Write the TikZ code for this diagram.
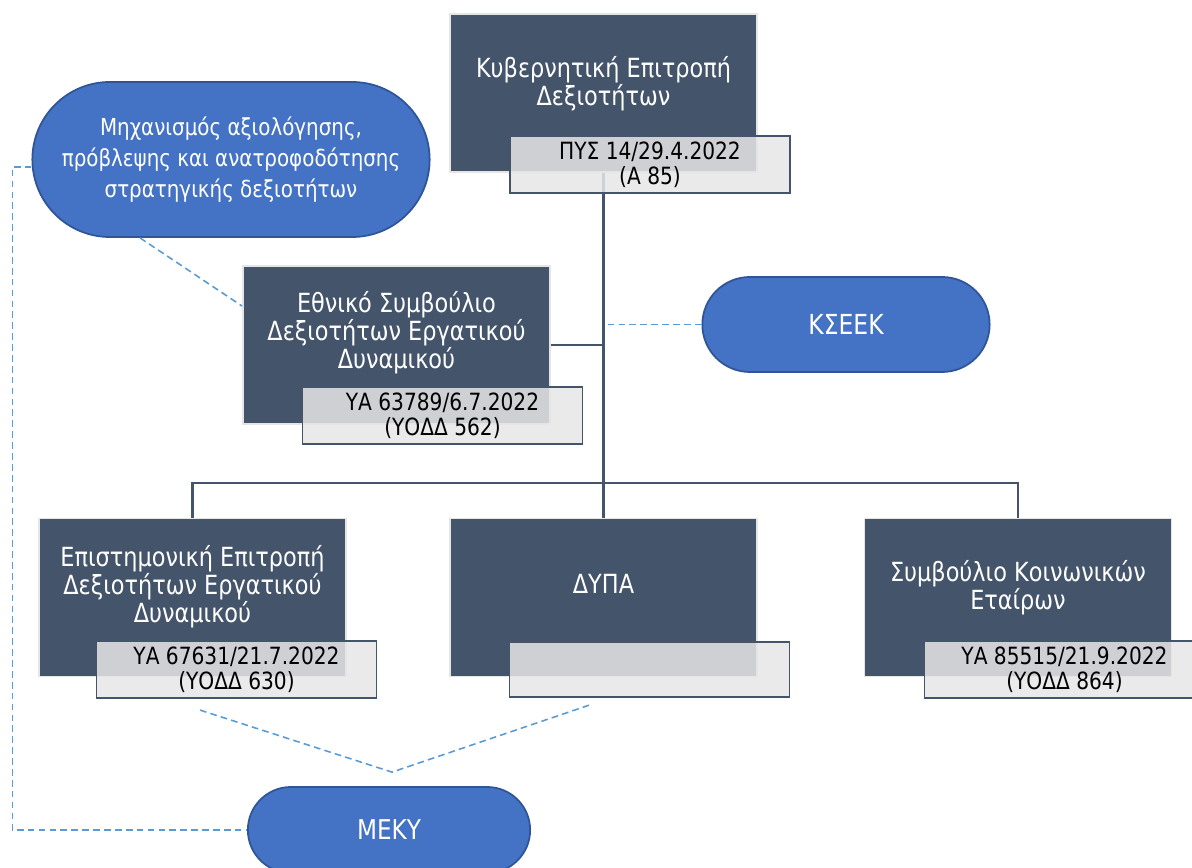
\documentclass[tikz,border=0pt]{standalone}
\usepackage{fontspec}
\setmainfont{DejaVu Sans}[FakeStretch=0.85]
\usetikzlibrary{shapes.misc}
\definecolor{unitdark}{HTML}{44546A}
\definecolor{taggray}{HTML}{E7E6E6}
\definecolor{pillblue}{HTML}{4472C4}
\definecolor{pillline}{HTML}{2F5597}
\definecolor{linkblue}{HTML}{5B9BD5}

\begin{document}
\begin{tikzpicture}[
  font=\fontsize{15}{16}\selectfont,
  unit/.style={draw=gray!20, line width=1pt, fill=unitdark, minimum width=6.14cm, minimum height=3.16cm},
  unittxt/.style={text=white, align=center},
  tag/.style={draw=unitdark, line width=1pt, fill=taggray, fill opacity=0.85, text opacity=1, minimum width=5.6cm, minimum height=1.1cm, align=center, font=\fontsize{13.5}{14.2}\selectfont},
  pill/.style={rounded rectangle, draw=pillline, line width=1pt, fill=pillblue, text=white, align=center},
  conn/.style={draw=unitdark, line width=1.4pt},
  linkdash/.style={draw=linkblue, line width=0.9pt, dash pattern=on 3.8pt off 2.4pt}
]
\useasboundingbox (0,0) rectangle (23.84,-17.36);

% Units
\node[unit] (kyv) at (12.07, -1.86) {};
\node[unit] (esded) at (7.93, -6.90) {};
\node[unit] (epit) at (3.85, -11.95) {};
\node[unit] (dypa) at (12.07, -11.95) {};
\node[unit] (symv) at (20.36, -11.95) {};

\node[unittxt] (kyvtxt) at ([yshift=0.19cm]kyv.center) {Κυβερνητική Επιτροπή\\Δεξιοτήτων};
\node[unittxt] (esdedtxt) at ([yshift=0.24cm]esded.center) {Εθνικό Συμβούλιο\\Δεξιοτήτων Εργατικού\\Δυναμικού};
\node[unittxt] (epittxt) at ([yshift=0.21cm]epit.center) {Επιστημονική Επιτροπή\\Δεξιοτήτων Εργατικού\\Δυναμικού};
\node[unittxt] (dypatxt) at ([yshift=0.28cm]dypa.center) {ΔΥΠΑ};
\node[unittxt] (symvtxt) at ([yshift=0.2cm]symv.center) {Συμβούλιο Κοινωνικών\\Εταίρων};

% Pills
\node[pill, minimum width=8.18cm, minimum height=3.1cm, font=\fontsize{13.3}{17.5}\selectfont] (mech) at (4.62, -3.19) {Μηχανισμός αξιολόγησης,\\πρόβλεψης και ανατροφοδότησης\\στρατηγικής δεξιοτήτων};
\node[pill, minimum width=5.98cm, minimum height=1.9cm, font=\fontsize{15.7}{17}\selectfont] (kseek) at (16.92, -6.49) {ΚΣΕΕΚ};
\node[pill, minimum width=5.88cm, minimum height=1.72cm, font=\fontsize{15.5}{17}\selectfont] (meky) at (7.78, -16.6) {ΜΕΚΥ};

% Tree
\coordinate (bus) at (12.07, -9.66);
\draw[conn] (kyv.south) -- (dypa.north);
\draw[conn] (esded.east) -- (esded.east -| kyv.south);
\draw[conn] (epit.north) |- (bus) -| (symv.north);

% Tags
\node[tag] (kyvlbl) at (13.0, -3.29) {ΠΥΣ 14/29.4.2022\\(Α 85)};
\node[tag] (esdedlbl) at (8.85, -8.31) {ΥΑ 63789/6.7.2022\\(ΥΟΔΔ 562)};
\node[tag] (epitlbl) at (4.73, -13.39) {ΥΑ 67631/21.7.2022\\(ΥΟΔΔ 630)};
\node[tag] (dypalbl) at (12.99, -13.39) {};
\node[tag] (symvlbl) at (21.29, -13.39) {ΥΑ 85515/21.9.2022\\(ΥΟΔΔ 864)};

% Dashed links
\draw[linkdash] ([xshift=-1.82cm]mech.south) -- ([yshift=-0.82cm]esded.north west);
\draw[linkdash] ([yshift=-0.15cm]mech.west) -- ++(-0.38,0) |- (meky.west);
\draw[linkdash] (kseek.west) -- (kseek.west -| kyv.south);
\draw[linkdash] ([shift={(-0.73,-0.22)}]epitlbl.south) -- ([shift={(0.06,0.28)}]meky.north) -- ([shift={(-1.19,-0.14)}]dypalbl.south);
\end{tikzpicture}
\end{document}
